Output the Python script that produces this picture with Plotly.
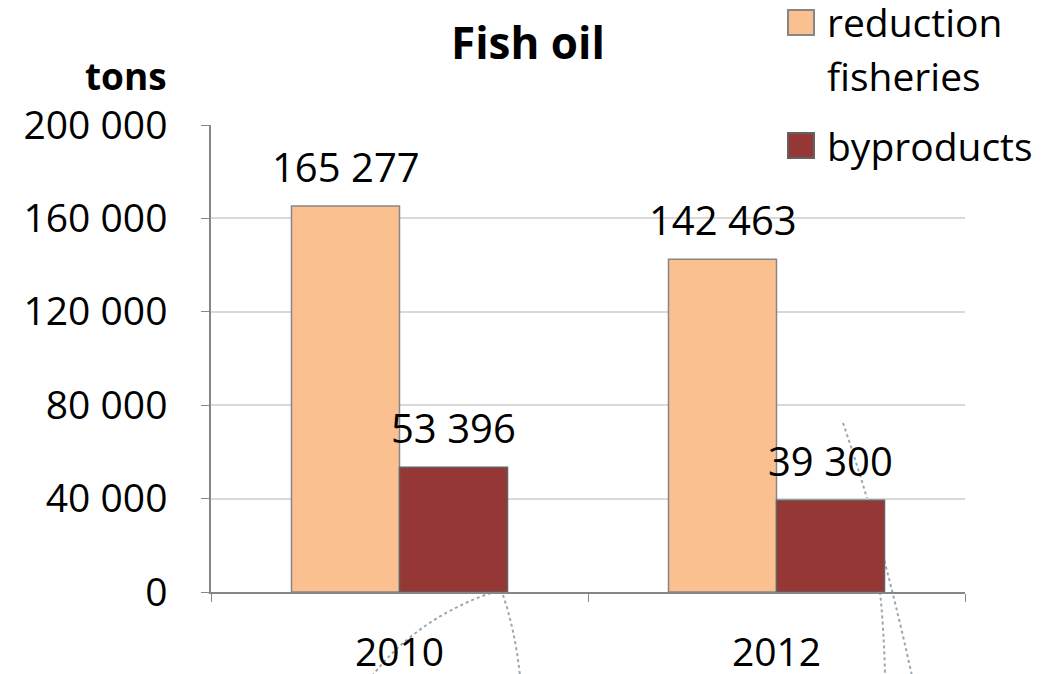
import plotly.graph_objects as go

years = ["2010", "2012"]
reduction = [165277, 142463]
byproducts = [53396, 39300]
series_names = ["reduction", "byproducts"]
legend_lines = [["reduction", "fisheries"], ["byproducts"]]
colors = ["#FAC090", "#953735"]
edge_colors = ["#868686", "#626262"]
y_ticks = [0, 40000, 80000, 120000, 160000, 200000]
y_ticklabels = ["0", "40 000", "80 000", "120 000", "160 000", "200 000"]

FONT = "Open Sans"
FS = 39
OFF = 8                      # page body margin
W, H = 1064 - OFF, 674 - OFF
# plot area in page pixels: x 211..965, y 125..592
PL, PR, PT, PB = 211, 965, 125, 592
L, T = PL - OFF, PT - OFF
R, B = W - (PR - OFF), H - (PB - OFF)

def lbl(v):
    return f"{v:,}".replace(",", " ")

def px(x, y):
    return ((x - PL) / (PR - PL), (PB - y) / (PB - PT))

fig = go.Figure()
for name, vals, c, ec in zip(series_names, (reduction, byproducts), colors, edge_colors):
    fig.add_trace(go.Bar(x=years, y=vals, name=name, showlegend=False,
                         marker=dict(color=c, line=dict(color=ec, width=1.5))))

# value labels above each bar (offset to the bar of its group); x given as category index
for vals, shift in ((reduction, -54), (byproducts, 54)):
    for i, v in enumerate(vals):
        fig.add_annotation(x=i, y=v, text=lbl(v), showarrow=False,
                           xshift=shift, yshift=40, yanchor="middle",
                           font=dict(size=40, family=FONT, color="black"))

# legend drawn by hand (large swatches, as in the reference)
sw_tops = [10, 133]
line_centres = [[22, 75], [145]]
for lines, c, ec, top, centres in zip(legend_lines, colors, edge_colors, sw_tops, line_centres):
    x0, y0 = px(788, top + 25)
    x1, y1 = px(814, top)
    fig.add_shape(type="rect", xref="paper", yref="paper", x0=x0, y0=y0, x1=x1, y1=y1,
                  fillcolor=c, line=dict(color=ec, width=2), layer="above")
    for txt, cy in zip(lines, centres):
        fig.add_annotation(text=txt, xref="paper", yref="paper", x=px(825, 0)[0], y=px(0, cy)[1],
                           xanchor="left", yanchor="middle", showarrow=False,
                           font=dict(size=FS, family=FONT, color="black"))

# decorative dotted leader-like curves seen in the reference
def path(pts):
    p = [px(*q) for q in pts]
    return f"M{p[0][0]},{p[0][1]} Q{p[1][0]},{p[1][1]} {p[2][0]},{p[2][1]}"

deco = [
    path([(372, 676), (420, 615), (500, 590)]),
    path([(503, 595), (515, 630), (520, 676)]),
    path([(843, 423), (880, 530), (912, 676)]),
    path([(880, 592), (884, 630), (885, 676)]),
]
for d in deco:
    fig.add_shape(type="path", path=d, xref="paper", yref="paper",
                  line=dict(color="#9aa8b5", width=2, dash="dot"), layer="between")

fig.add_annotation(text="<b>tons</b>", xref="paper", yref="paper",
                   x=px(169, 0)[0], y=px(0, 75)[1], xanchor="right", yanchor="middle",
                   showarrow=False, font=dict(size=37, family=FONT, color="black"))

fig.update_layout(
    width=W, height=H,
    margin=dict(l=L, r=R, t=T, b=B, autoexpand=False),
    paper_bgcolor="white", plot_bgcolor="white",
    font=dict(family=FONT, color="black", size=FS),
    title=dict(text="<b>Fish oil</b>", x=(528 - OFF) / W, xref="container",
               xanchor="center", y=1 - (44 - OFF) / H, yref="container", yanchor="middle",
               font=dict(size=44, family=FONT, color="black")),
    barmode="group", bargap=0.427, bargroupgap=0,
    showlegend=False,
)
fig.update_xaxes(type="category", range=[-0.5, len(years) - 0.5], autorange=False,
                 showline=True, linecolor="#868686", linewidth=1.5,
                 automargin=False, ticks="outside", tickson="boundaries", ticklen=8,
                 tickcolor="#868686", ticklabelstandoff=25,
                 tickfont=dict(size=FS, family=FONT, color="black"), showgrid=False)
fig.update_yaxes(range=[0, 200000], autorange=False, tickvals=y_ticks, ticktext=y_ticklabels,
                 showline=True, linecolor="#868686", linewidth=1.5, automargin=False,
                 ticks="outside", ticklen=8, tickcolor="#868686", ticklabelstandoff=26,
                 showgrid=True, gridcolor="#d9d9d9", gridwidth=1.5,
                 tickfont=dict(size=FS, family=FONT, color="black"), zeroline=False)

fig.write_html("out.html")
